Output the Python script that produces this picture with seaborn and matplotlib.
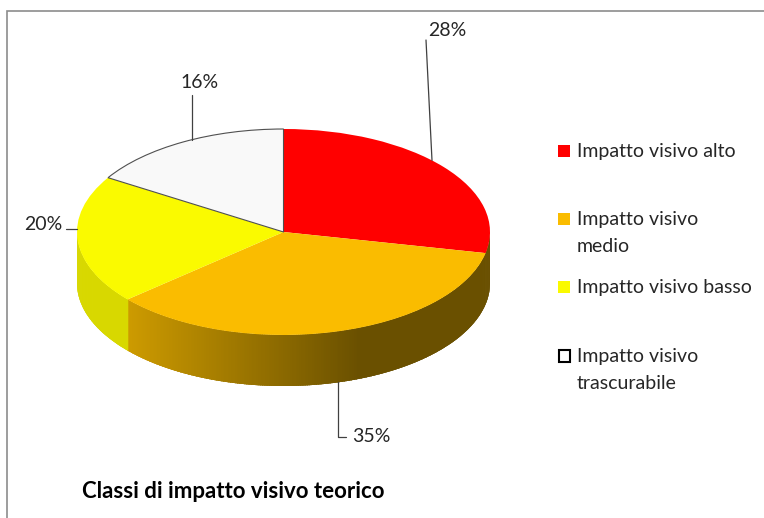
import numpy as np
import matplotlib
matplotlib.use('Agg')
import matplotlib.pyplot as plt
from matplotlib.patches import Polygon, Rectangle
import seaborn as sns

# dati
classi = ['Impatto visivo alto', 'Impatto visivo\nmedio', 'Impatto visivo basso',
          'Impatto visivo\ntrascurabile']
percentuali = [28, 35, 20, 16]
colori_top = ['#FF0000', '#FABC00', '#FAFA00', '#F9F9F9']
colori_lato = ['#6A5000', '#D4A000', '#D8D800', '#CCCCCC']
titolo = 'Classi di impatto visivo teorico'

sns.set_style('white')
plt.rcParams['font.family'] = ['Lato', 'DejaVu Sans']

W, H = 764, 518
fig = plt.figure(figsize=(W / 100, H / 100), dpi=100)
ax = fig.add_axes([0, 0, 1, 1])

# ellisse in pixel: centro, semiassi, spessore
cx, cy, rx, ry, spessore = 283.5, 232, 206.5, 103, 51
prof = spessore / ry


def px(xp, yp):
    return (xp - cx) / rx, (cy - yp) / ry


wedges, _ = ax.pie(percentuali, colors=colori_top, startangle=90, counterclock=False,
                   wedgeprops=dict(linewidth=0))
wedges[3].set_edgecolor('#505050')
wedges[3].set_linewidth(0.8)

ax.set_aspect('auto')
ax.set_xlim((0 - cx) / rx, (W - cx) / rx)
ax.set_ylim(-(H - cy) / ry, cy / ry)
ax.axis('off')

# angoli delle fette (gradi, senso orario da ore 12)
angoli = []
a = 90.0
tot = sum(percentuali)
for p in percentuali:
    angoli.append((a - 360 * p / tot, a))
    a -= 360 * p / tot


def colore_lato(i, x):
    if i != 1:
        return colori_lato[i]
    xp = cx + rx * x
    c1 = np.array([212, 160, 0]) / 255
    c2 = np.array([106, 80, 0]) / 255
    f = np.clip((xp - 113) / (360 - 113), 0, 1)
    return tuple(c1 + (c2 - c1) * f)


# fianco 3D della torta (solo la meta' anteriore)
for i, (a0, a1) in enumerate(angoli):
    for r0, r1 in [(max(a0, -180), min(a1, 0)), (max(a0 + 360, 180), min(a1 + 360, 360))]:
        if r1 <= r0:
            continue
        tt = np.linspace(r0, r1, max(int((r1 - r0) * 2), 2) + 1)
        for t0, t1 in zip(tt[:-1], tt[1:]):
            t = np.radians(np.linspace(t0, min(t1 + 0.3, r1 if i == 3 else t1 + 0.3), 4))
            xs, ys = np.cos(t), np.sin(t)
            pts = np.concatenate([np.column_stack([xs, ys]),
                                  np.column_stack([xs[::-1], ys[::-1] - prof])])
            ax.add_patch(Polygon(pts, closed=True, facecolor=colore_lato(i, xs.mean()),
                                 edgecolor='none', zorder=0.5))

# etichette percentuali con linee guida
pos_etichette = [(447, 30), (371, 437), (43, 224), (200, 83)]
lc = '#404040'
for i, (a0, a1) in enumerate(angoli):
    m = np.radians((a0 + a1) / 2)
    ex, ey = np.cos(m), np.sin(m)
    lab = f'{percentuali[i]}%'
    if i == 0:
        fx, fy = px(426, 40)
        ex = px(432, 0)[0]
        ey = np.sqrt(1 - ex ** 2)
        ax.plot([ex, fx], [ey, fy], color=lc, lw=0.9)
    elif i == 1:
        ex = px(338, 0)[0]
        ey = -np.sqrt(1 - ex ** 2) - prof
        fx, fy = px(346, 437)
        ax.plot([ex, ex, fx], [ey, fy, fy], color=lc, lw=0.9)
    elif i == 2:
        fx, fy = px(66, 229)
        ex = -np.sqrt(1 - fy ** 2)
        ax.plot([fx, ex], [fy, fy], color=lc, lw=0.9)
    else:
        fx, fy = px(192, 95)
        ey = np.sqrt(1 - fx ** 2)
        ax.plot([fx, fx], [ey, fy], color=lc, lw=0.9)
    ax.text(*px(*pos_etichette[i]), lab, ha='center', va='center', fontsize=14, color='#262626')

# legenda
leg_y = [151, 219, 287, 356]
for i, nome in enumerate(classi):
    y = leg_y[i]
    if i == 3:
        r = Rectangle((559 / W, 1 - (y + 6) / H), 11 / W, 12 / H, transform=fig.transFigure,
                      facecolor='white', edgecolor='black', lw=1.5)
    else:
        r = Rectangle((558 / W, 1 - (y + 6) / H), 12 / W, 12 / H, transform=fig.transFigure,
                      facecolor=colori_top[i], edgecolor='none')
    fig.add_artist(r)
    fig.text(577 / W, 1 - (y - 8) / H, nome, ha='left', va='top', fontsize=14,
             color='#262626', linespacing=1.7)

fig.text(82 / W, 1 - 492 / H, titolo, ha='left', va='center', fontsize=16,
         fontweight='bold', color='black')

# cornice
fig.add_artist(Rectangle((7 / W, -0.1), 1.2, 1 - 11 / H + 0.1, transform=fig.transFigure,
                         facecolor='none', edgecolor='#8C8C8C', lw=1.2))

fig.savefig('out.png', dpi=100)
